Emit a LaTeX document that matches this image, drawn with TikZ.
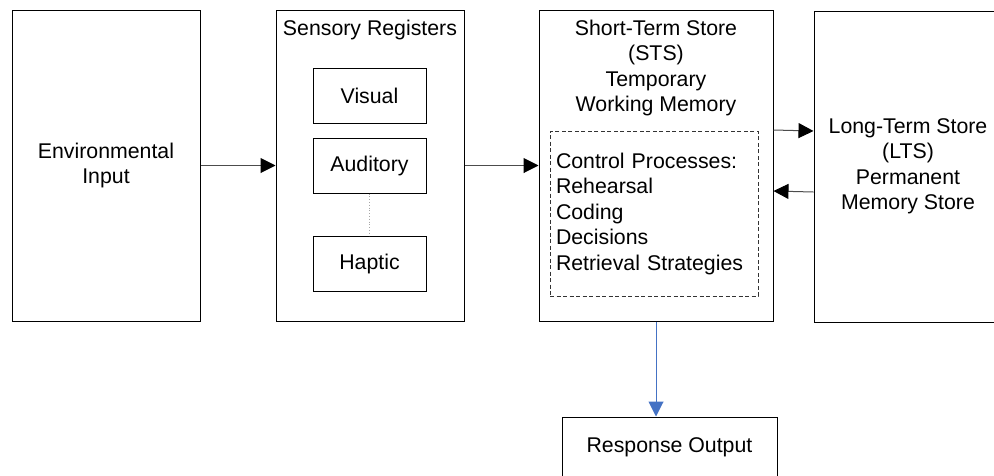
\documentclass[tikz,border=0pt]{standalone}
\usepackage{fontspec}
\setmainfont{Liberation Sans}
\usepackage{tikz}
\usetikzlibrary{arrows.meta, positioning, calc}
\definecolor{outblue}{RGB}{68,114,196}
\tikzstyle{store} = [rectangle, minimum width=188pt, minimum height=311pt, align=center, draw=black, line width=1pt, fill=white]
\tikzstyle{register} = [rectangle, minimum width=113pt, minimum height=55pt, align=center, draw=black, line width=1pt]
\tikzstyle{control} = [rectangle, minimum width=208pt, minimum height=165pt, text width=196pt, inner xsep=6pt, align=left, draw=black!80, dash pattern=on 4pt off 2.5pt, line width=0.8pt]
\tikzstyle{arrow} = [line width=1pt, draw=black!70, -{Triangle[length=15pt,width=15pt,black]}]

\begin{document}
\begin{tikzpicture}[x=1pt, y=-1pt, font=\fontsize{21.3}{25.5}\selectfont]
\clip (0,0) rectangle (994,475);

% Nodes
\node (env) [store] at (106,165.5) {Environmental\\Input};

\node (sens) [store] at (370,165.5) {};
\node (senstitle) at (370,29.5) {Sensory Registers};
\node (vis) [register] at (369.5,95.5) {Visual};
\node (aud) [register] at (369.5,165.5) {Auditory};
\node (hap) [register] at (369.5,263.5) {Haptic};

\node (sts) [store, minimum width=234pt] at (656,165.5) {};
\node (ststitle) [align=center] at (656,68) {Short-Term Store\\(STS)\\Temporary\\Working Memory};
\node (ctrl) [control] at (654,213.5) {Control Processes:\\Rehearsal\\Coding\\Decisions\\Retrieval Strategies};

\node (lts) [store] at (908,166.5) {Long-Term Store\\(LTS)\\Permanent\\Memory Store};

\node (resp) [rectangle, draw=black, line width=1pt, minimum width=215pt, minimum height=60pt] at (669.5,447) {Response Output};

% Arrows
\draw [arrow] (env) -- (sens);
\draw [arrow] (sens) -- (sts);
\draw [arrow] ([yshift=35.5pt]sts.east) -- ([yshift=35.5pt]lts.west);
\draw [arrow] ([yshift=-25.5pt]lts.west) -- ([yshift=-25.5pt]sts.east);
\draw [gray!70, dotted, line width=0.8pt] (aud) -- (hap);
\draw [line width=1pt, draw=outblue, -{Triangle[length=15pt,width=15pt,outblue]}] (sts.south) -- (resp.north -| sts.south);

\end{tikzpicture}
\end{document}
